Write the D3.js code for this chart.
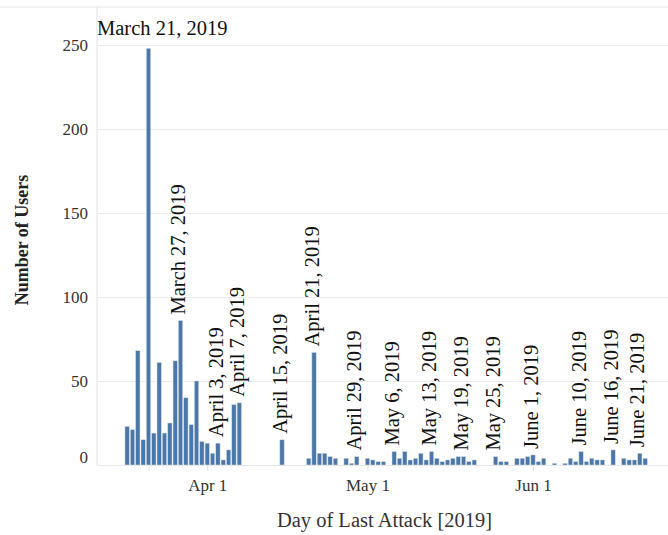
<!DOCTYPE html>
<html>
<head>
<meta charset="utf-8">
<script src="https://cdn.jsdelivr.net/npm/d3@7"></script>
<style>
  html, body { margin: 0; padding: 0; background: #fff; }
  svg { display: block; }
</style>
</head>
<body>
<svg id="chart" width="668" height="535"></svg>
<script>
// ---- data ----
const dates = [
  "2019-03-17","2019-03-18","2019-03-19","2019-03-20","2019-03-21","2019-03-22","2019-03-23","2019-03-24",
  "2019-03-25","2019-03-26","2019-03-27","2019-03-28","2019-03-29","2019-03-30","2019-03-31","2019-04-01",
  "2019-04-02","2019-04-03","2019-04-04","2019-04-05","2019-04-06","2019-04-07","2019-04-15","2019-04-20",
  "2019-04-21","2019-04-22","2019-04-23","2019-04-24","2019-04-25","2019-04-27","2019-04-28","2019-04-29",
  "2019-05-01","2019-05-02","2019-05-03","2019-05-04","2019-05-06","2019-05-07","2019-05-08","2019-05-09",
  "2019-05-10","2019-05-11","2019-05-12","2019-05-13","2019-05-14","2019-05-15","2019-05-16","2019-05-17",
  "2019-05-18","2019-05-19","2019-05-20","2019-05-21","2019-05-25","2019-05-26","2019-05-27","2019-05-29",
  "2019-05-30","2019-05-31","2019-06-01","2019-06-02","2019-06-03","2019-06-05","2019-06-07","2019-06-08",
  "2019-06-09","2019-06-10","2019-06-11","2019-06-12","2019-06-13","2019-06-14","2019-06-16","2019-06-18",
  "2019-06-19","2019-06-20","2019-06-21","2019-06-22"
];
const users = [
  23,21,68,15,248,19,61,19,
  25,62,86,40,24,50,14,13,
  7,13,3,9,36,37,15,4,
  67,7,7,5,4,4,1,5,
  4,3,2,2,8,4,8,3,
  4,7,3,8,4,2,3,4,
  5,5,2,3,5,2,2,4,
  4,5,6,2,4,1,1,4,
  2,8,2,4,3,3,9,4,
  3,3,7,4
];
// annotated days (vertical labels) and their texts
const annotDates = ["2019-03-27","2019-04-03","2019-04-07","2019-04-15","2019-04-21","2019-04-29",
  "2019-05-06","2019-05-13","2019-05-19","2019-05-25","2019-06-01","2019-06-10","2019-06-16","2019-06-21"];
const annotTexts = ["March 27, 2019","April 3, 2019","April 7, 2019","April 15, 2019","April 21, 2019",
  "April 29, 2019","May 6, 2019","May 13, 2019","May 19, 2019","May 25, 2019","June 1, 2019",
  "June 10, 2019","June 16, 2019","June 21, 2019"];
const peakDate = "2019-03-21";
const peakText = "March 21, 2019";
const yTicks = [0, 50, 100, 150, 200, 250];
const xTickDates = ["2019-04-01","2019-05-01","2019-06-01"];
const xTickLabels = ["Apr 1","May 1","Jun 1"];
const yTitle = "Number of Users";
const xTitle = "Day of Last Attack [2019]";

// ---- layout ----
const W = 668, H = 535;
const plot = { left: 97, right: 668, top: 7, bottom: 465 };
const FONT = "'Liberation Serif', 'Times New Roman', serif";
const BAR = "#4c78a8";

const parse = s => { const [y,m,d] = s.split("-").map(Number); return new Date(Date.UTC(y, m-1, d)); };
const data = dates.map((d, i) => ({ date: parse(d), v: users[i] }));
const byKey = new Map(dates.map((d, i) => [d, users[i]]));

const x = d3.scaleUtc()
  .domain([parse("2019-03-21"), parse("2019-06-01")])
  .range([148.5, 533]);
const y = d3.scaleLinear().domain([0, 272.6]).range([plot.bottom, plot.top]);
const dayW = x(parse("2019-03-22")) - x(parse("2019-03-21"));
const bw = dayW - 1;

const svg = d3.select("#chart");

// frame lines
svg.append("line").attr("x1", 0).attr("x2", W).attr("y1", plot.top).attr("y2", plot.top)
  .attr("stroke", "#e6e6e6").attr("stroke-width", 1);
svg.append("line").attr("x1", plot.left).attr("x2", plot.left).attr("y1", plot.top).attr("y2", plot.bottom)
  .attr("stroke", "#e2e2e2").attr("stroke-width", 1);

// y gridlines + labels
const yAxis = svg.append("g").attr("transform", `translate(${plot.left},0)`)
  .call(d3.axisLeft(y).tickValues(yTicks).tickSize(-(plot.right - plot.left)).tickPadding(9));
yAxis.select(".domain").remove();
yAxis.selectAll(".tick line").attr("stroke", "#ececec");
yAxis.selectAll(".tick text").attr("font-family", FONT).attr("font-size", 17).attr("fill", "#333")
  .attr("dy", d => d === 0 ? "-0.12em" : "0.32em");

// bars
svg.append("g").selectAll("rect").data(data).join("rect")
  .attr("x", d => x(d.date) - bw / 2)
  .attr("width", bw)
  .attr("y", d => y(d.v))
  .attr("height", d => y(0) - y(d.v))
  .attr("fill", BAR)
  .attr("stroke", "#d8dde3")
  .attr("stroke-width", 0.5);

// x axis
const xAxis = svg.append("g").attr("transform", `translate(0,${plot.bottom})`)
  .call(d3.axisBottom(x).tickValues(xTickDates.map(parse))
    .tickFormat((d, i) => xTickLabels[i]).tickSize(6).tickPadding(8));
xAxis.select(".domain").attr("stroke", "#e6e6e6");
xAxis.selectAll(".tick line").attr("stroke", "#e0e0e0");
xAxis.selectAll(".tick text").attr("font-family", FONT).attr("font-size", 17).attr("fill", "#333");

// vertical annotations
svg.append("g").selectAll("text").data(annotDates).join("text")
  .attr("transform", d => `translate(${x(parse(d)) - 2.5},${y(byKey.get(d)) - 6}) rotate(-90)`)
  .attr("dy", "0.35em")
  .attr("font-family", FONT).attr("font-size", 20.5).attr("fill", "#111")
  .text((d, i) => annotTexts[i]);

// peak annotation (horizontal)
svg.append("text")
  .attr("x", plot.left)
  .attr("y", y(byKey.get(peakDate)) - 13)
  .attr("font-family", FONT).attr("font-size", 20.5).attr("fill", "#111")
  .text(peakText);

// axis titles
svg.append("text")
  .attr("transform", `translate(22,${(plot.top + plot.bottom) / 2 + 4}) rotate(-90)`)
  .attr("text-anchor", "middle").attr("dy", "0.35em")
  .attr("font-family", FONT).attr("font-size", 18).attr("font-weight", "bold").attr("fill", "#222")
  .text(yTitle);
svg.append("text")
  .attr("x", (plot.left + plot.right) / 2 + 2).attr("y", 520)
  .attr("text-anchor", "middle").attr("dy", "0.35em")
  .attr("font-family", FONT).attr("font-size", 20.5).attr("fill", "#333")
  .text(xTitle);
</script>
</body>
</html>
